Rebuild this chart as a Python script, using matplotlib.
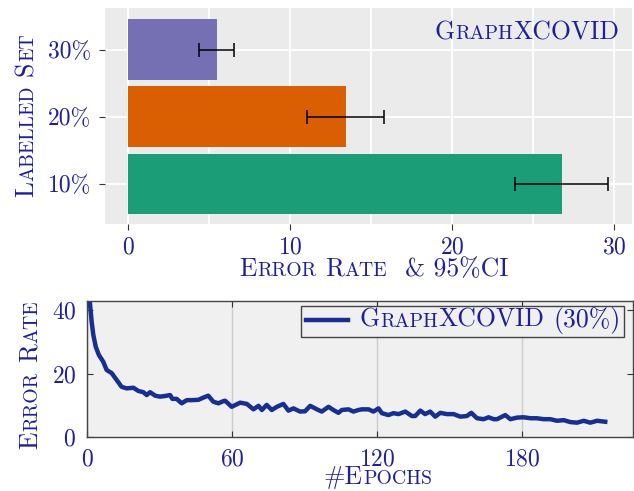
import matplotlib
matplotlib.use("Agg")
import matplotlib.pyplot as plt
from matplotlib.ticker import MultipleLocator, FixedLocator
from matplotlib.transforms import IdentityTransform

plt.rcParams["font.family"] = ["cmr10", "DejaVu Serif"]
plt.rcParams["axes.formatter.use_mathtext"] = True

TXT = "#1e1e9e"
LINE = "#172f8f"

# ── data: bar chart
sets = ["10%", "20%", "30%"]
err_rate = [26.75, 13.42, 5.45]
ci95 = [2.88, 2.37, 1.07]
bar_colors = ["#1b9e77", "#d95f02", "#7570b3"]

# ── data: training curve (30% labelled)
epochs = [0.5, 1.1, 1.8, 2.5, 3.5, 4.8, 6.6, 8.0, 10.1, 12.2, 14.2, 16.3, 19.1,
          21.1, 23.2, 24.6, 26.0, 28.1, 30.1, 32.2, 34.3, 35.2, 37.0, 39.1,
          41.2, 43.3, 46.0, 48.1, 50.1, 52.2, 54.3, 56.4, 57.1, 59.8, 63.3,
          66.1, 68.8, 70.9, 72.3, 74.3, 76.4, 78.5, 81.2, 83.3, 85.4, 88.1,
          90.2, 92.3, 95.1, 97.1, 99.9, 101.9, 104.0, 105.4, 108.2, 110.2,
          112.3, 113.7, 116.5, 118.5, 120.6, 122.0, 124.7, 126.8, 128.9,
          131.7, 134.4, 135.8, 137.9, 139.9, 142.0, 144.1, 146.2, 148.9,
          151.7, 154.5, 157.2, 159.0, 161.4, 164.1, 166.2, 168.3, 169.7,
          173.1, 175.2, 178.0, 180.7, 183.5, 186.2, 189.0, 191.8, 194.5,
          197.3, 200.0, 202.8, 205.6, 208.3, 211.1, 214.5]
curve = [45.0, 42.2, 36.4, 32.2, 28.5, 25.9, 23.8, 21.2, 20.2, 18.0, 15.9, 15.4,
         15.6, 14.6, 14.2, 13.3, 14.2, 13.1, 12.8, 13.0, 13.3, 12.1, 12.1,
         10.7, 11.7, 11.7, 11.8, 12.5, 13.1, 11.2, 10.7, 11.4, 11.5, 9.6,
         10.9, 10.5, 8.8, 9.9, 8.6, 10.2, 8.6, 9.6, 10.5, 8.4, 9.1, 8.1, 8.2,
         9.9, 8.8, 8.1, 9.6, 8.6, 7.7, 8.6, 8.8, 8.1, 8.6, 8.8, 8.8, 8.1, 9.1,
         7.6, 7.0, 7.6, 7.3, 8.1, 6.7, 6.7, 8.4, 7.3, 8.1, 6.5, 7.7, 7.3, 7.3,
         6.5, 6.7, 7.7, 6.0, 5.7, 6.3, 5.7, 5.7, 7.0, 5.7, 6.2, 6.3, 6.0, 6.0,
         5.7, 5.7, 5.2, 5.4, 4.8, 4.6, 5.2, 4.6, 5.2, 4.9]

W, H = 634, 491
fig = plt.figure(figsize=(W / 100, H / 100), dpi=100)

SC_SIZE = 18.5
SC_RATIO = 0.77


def small_caps(x, y, parts, size=SC_SIZE, ratio=SC_RATIO, rotation=0, ha="center"):
    """parts: (text, big) tuples or float gaps in em. x, y in pixels from top-left."""
    r = fig.canvas.get_renderer()
    px = size * 100 / 72
    items = []
    for p in parts:
        if isinstance(p, float):
            items.append((None, 0, p * px))
            continue
        s, big = p
        fs = size if big else size * ratio
        t = fig.text(0, 0, s, fontsize=fs)
        items.append((s, fs, t.get_window_extent(r).width + 0.6))
        t.remove()
    total = sum(w for _, _, w in items)
    yd = H - y
    pos = {"center": -total / 2, "left": 0, "right": -total}[ha]
    for s, fs, w in items:
        if s is not None:
            if rotation:
                fig.text(x, yd + pos, s, fontsize=fs, color=TXT, rotation=90,
                         rotation_mode="anchor", ha="left", va="baseline",
                         transform=IdentityTransform())
            else:
                fig.text(x + pos, yd, s, fontsize=fs, color=TXT, ha="left",
                         va="baseline", transform=IdentityTransform())
        pos += w


# ── top: bar chart
ax1 = fig.add_axes([105 / W, 1 - 224 / H, 527 / W, 216 / H])
ax1.set_facecolor("#ebebeb")
ax1.set_axisbelow(True)
for s in ax1.spines.values():
    s.set_visible(False)
ypos = list(range(len(sets)))
ax1.barh(ypos, err_rate, height=0.9, color=bar_colors, edgecolor="none", zorder=2)
ax1.errorbar(err_rate, ypos, xerr=ci95, fmt="none", ecolor="black",
             elinewidth=1.1, capsize=5, capthick=1.1, zorder=3)
ax1.set_xlim(-1.44, 31.1)
ax1.set_ylim(-0.6, 2.62)
ax1.xaxis.set_major_locator(MultipleLocator(10))
ax1.xaxis.set_minor_locator(MultipleLocator(5))
ax1.set_yticks(ypos)
ax1.set_yticklabels(sets)
ax1.grid(True, which="both", color="white", lw=1.3)
ax1.tick_params(which="major", direction="out", length=4, width=0.8,
                color="#333333", labelsize=17, labelcolor=TXT, pad=6)
ax1.tick_params(axis="x", pad=5)
ax1.tick_params(which="minor", length=0)

# ── bottom: training curve
ax2 = fig.add_axes([87.3 / W, 1 - 437.3 / H, 545.7 / W, 136.6 / H])
ax2.set_facecolor("#f0f0f0")
ax2.plot(epochs, curve, color=LINE, lw=3.2, label="GRAPHXCOVID  (30%) MF")
ax2.set_xlim(0, 226)
ax2.set_ylim(0, 43)
ax2.xaxis.set_major_locator(FixedLocator([0, 60, 120, 180]))
ax2.yaxis.set_major_locator(FixedLocator([0, 20, 40]))
ax2.grid(True, axis="x", color="#cccccc", lw=1.0)
for s in ax2.spines.values():
    s.set_color("#444444")
    s.set_linewidth(1.0)
ax2.tick_params(direction="in", length=4, width=0.8, color="#333333",
                top=True, right=True, labelsize=17, labelcolor=TXT, pad=8)
leg = ax2.legend(loc="upper right", bbox_to_anchor=(0.9835, 0.961),
                 borderaxespad=0, fontsize=14.5, frameon=True, fancybox=False,
                 framealpha=1, facecolor="#f0f0f0", edgecolor="#444444",
                 handlelength=2.05, handletextpad=0.45, borderpad=0.25)
leg.get_frame().set_linewidth(1.0)

fig.canvas.draw()
r = fig.canvas.get_renderer()
lt = leg.get_texts()[0]
bb = lt.get_window_extent(r)
_, _, desc = r.get_text_width_height_descent(lt.get_text(), lt.get_fontproperties(), ismath=False)
# placeholder label only sizes the legend box; the small-caps label is drawn on top
lt.set_visible(False)

# small-caps text
small_caps(527, 39, [("G", 1), ("RAPH", 0), ("XCOVID", 1)])
small_caps(374, 276, [("E", 1), ("RROR", 0), 0.33, ("R", 1), ("ATE", 0), 0.66,
                      ("& 95%CI", 1)])
small_caps(33, 115, [("L", 1), ("ABELLED", 0), 0.33, ("S", 1), ("ET", 0)],
           rotation=90)
small_caps(37, 374, [("E", 1), ("RROR", 0), 0.33, ("R", 1), ("ATE", 0)],
           rotation=90)
small_caps(378, 484, [("#E", 1), ("POCHS", 0)])
small_caps(bb.x0 + 3, H - (bb.y0 + desc),
           [("G", 1), ("RAPH", 0), ("XCOVID", 1), 0.33, ("(30%)", 1)],
           ha="left")

fig.savefig("out.png", dpi=100)
